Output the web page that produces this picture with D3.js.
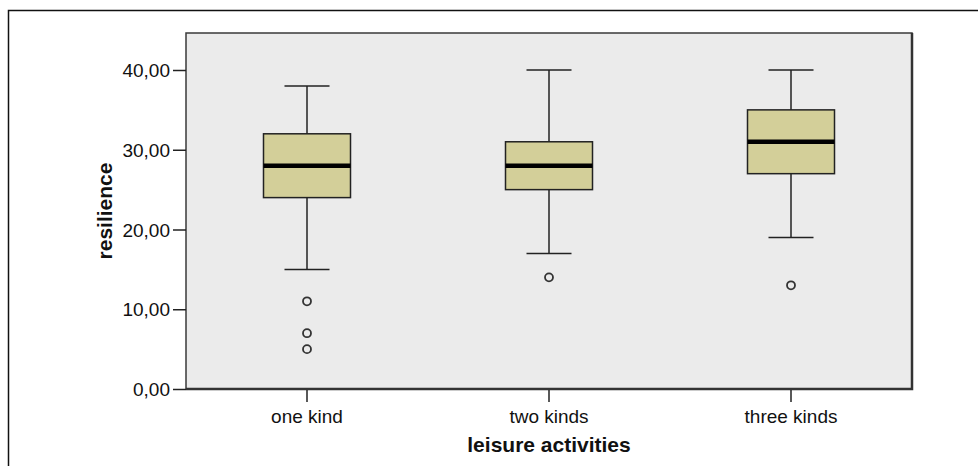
<!DOCTYPE html>
<html>
<head>
<meta charset="utf-8">
<script src="https://cdn.jsdelivr.net/npm/d3@7"></script>
<style>
  body { margin: 0; background: white; }
  text { font-family: "Liberation Sans", Arial, sans-serif; fill: #111; }
</style>
</head>
<body>
<script>
  // box plot summaries
  let categories = ["one kind", "two kinds", "three kinds"];
  let whiskerLow = [15, 17, 19];
  let q1 = [24, 25, 27];
  let median = [28, 28, 31];
  let q3 = [32, 31, 35];
  let whiskerHigh = [38, 40, 40];
  let outliers = [[11, 7, 5], [14], [13]];
  let yTicks = [0, 10, 20, 30, 40];

  let svgContainer = d3.select('body').append('svg')
    .attr('width', 978)
    .attr('height', 466);

  // outer frame (only left and top show, the rest runs off the picture)
  svgContainer.append('path')
    .attr('d', 'M8.5,466 L8.5,10.5 L978,10.5')
    .attr('fill', 'none')
    .attr('stroke', '#111')
    .attr('stroke-width', 1.5);

  let plot = { left: 186, right: 912, top: 33, bottom: 389 };

  // plot background
  svgContainer.append('rect')
    .attr('x', plot.left)
    .attr('y', plot.top)
    .attr('width', plot.right - plot.left)
    .attr('height', plot.bottom - plot.top)
    .style('fill', '#ebebeb')
    .attr('stroke', '#3a3a3a')
    .attr('stroke-width', 1.5);

  let xScale = d3.scaleBand()
    .domain(categories)
    .range([plot.left, plot.right])
    .padding(0);

  let yScale = d3.scaleLinear()
    .domain([0, 40])
    .range([plot.bottom, 70]);

  let fmt = (d) => d3.format(".2f")(d).replace(".", ",");

  // y axis
  let yAxis = d3.axisLeft(yScale)
    .tickValues(yTicks)
    .tickFormat(fmt)
    .tickSize(13)
    .tickPadding(3);
  let yg = svgContainer.append('g')
    .attr('transform', 'translate(' + plot.left + ',0)')
    .call(yAxis);
  yg.select('.domain').remove();
  yg.selectAll('line').attr('stroke', '#222').attr('stroke-width', 1.5);
  yg.selectAll('text').style('font-size', '19px').attr('dy', '0.35em');

  // x axis
  let xAxis = d3.axisBottom(xScale)
    .tickSize(13)
    .tickPadding(5);
  let xg = svgContainer.append('g')
    .attr('transform', 'translate(0,' + plot.bottom + ')')
    .call(xAxis);
  xg.select('.domain').remove();
  xg.selectAll('line').attr('stroke', '#222').attr('stroke-width', 1.5);
  xg.selectAll('text').style('font-size', '19px').attr('dy', '0.85em');

  // heavier right and bottom edges of the plot
  svgContainer.append('path')
    .attr('d', 'M' + plot.left + ',' + plot.bottom + ' L' + plot.right + ',' + plot.bottom + ' L' + plot.right + ',' + plot.top)
    .attr('fill', 'none')
    .attr('stroke', '#333')
    .attr('stroke-width', 2.5);

  let boxW = 87;
  let capW = 45;
  let rows = categories.map((c, i) => ({
    cat: c, lo: whiskerLow[i], q1: q1[i], med: median[i], q3: q3[i], hi: whiskerHigh[i], out: outliers[i]
  }));

  let g = svgContainer.selectAll('.box')
    .data(rows)
    .enter()
    .append('g')
    .attr('class', 'box')
    .attr('transform', (d) => 'translate(' + (xScale(d.cat) + xScale.bandwidth() / 2) + ',0)');

  // whiskers
  g.append('line')
    .attr('x1', 0).attr('x2', 0)
    .attr('y1', (d) => yScale(d.hi))
    .attr('y2', (d) => yScale(d.lo))
    .attr('stroke', '#222')
    .attr('stroke-width', 1.5);

  g.append('line')
    .attr('x1', -capW / 2).attr('x2', capW / 2)
    .attr('y1', (d) => yScale(d.hi)).attr('y2', (d) => yScale(d.hi))
    .attr('stroke', '#222')
    .attr('stroke-width', 1.5);

  g.append('line')
    .attr('x1', -capW / 2).attr('x2', capW / 2)
    .attr('y1', (d) => yScale(d.lo)).attr('y2', (d) => yScale(d.lo))
    .attr('stroke', '#222')
    .attr('stroke-width', 1.5);

  // boxes
  g.append('rect')
    .attr('x', -boxW / 2)
    .attr('width', boxW)
    .attr('y', (d) => yScale(d.q3))
    .attr('height', (d) => yScale(d.q1) - yScale(d.q3))
    .style('fill', '#d3cf99')
    .attr('stroke', '#222')
    .attr('stroke-width', 1.5);

  // medians
  g.append('line')
    .attr('x1', -boxW / 2).attr('x2', boxW / 2)
    .attr('y1', (d) => yScale(d.med)).attr('y2', (d) => yScale(d.med))
    .attr('stroke', '#000')
    .attr('stroke-width', 4.5);

  // outliers
  g.selectAll('circle')
    .data((d) => d.out)
    .enter()
    .append('circle')
    .attr('cx', 0)
    .attr('cy', (v) => yScale(v))
    .attr('r', 4)
    .style('fill', '#ebebeb')
    .attr('stroke', '#333')
    .attr('stroke-width', 1.8);

  // axis titles
  svgContainer.append('text')
    .attr('x', (plot.left + plot.right) / 2)
    .attr('y', 452)
    .style('text-anchor', 'middle')
    .style('font-size', '21px')
    .style('font-weight', 'bold')
    .text('leisure activities');

  svgContainer.append('text')
    .attr('transform', 'translate(112,' + (plot.top + plot.bottom) / 2 + ') rotate(-90)')
    .style('text-anchor', 'middle')
    .style('font-size', '21px')
    .style('font-weight', 'bold')
    .text('resilience');
</script>
</body>
</html>
